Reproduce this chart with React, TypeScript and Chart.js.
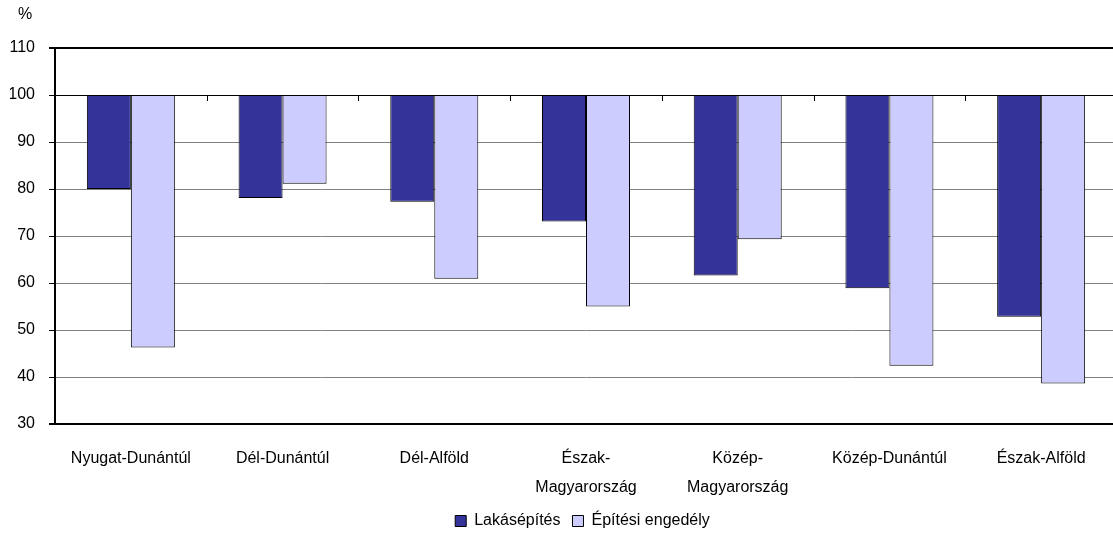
import React, { useEffect, useRef } from "react";
import { Chart, registerables } from "chart.js";

Chart.register(...registerables);

const categories: string[][] = [
  ["Nyugat-Dunántúl"],
  ["Dél-Dunántúl"],
  ["Dél-Alföld"],
  ["Észak-", "Magyarország"],
  ["Közép-", "Magyarország"],
  ["Közép-Dunántúl"],
  ["Észak-Alföld"],
];
const seriesNames = ["Lakásépítés", "Építési engedély"];
const lakasepites = [80.0, 78.1, 77.3, 73.1, 61.6, 58.9, 52.8];
const epitesiEngedely = [46.3, 81.1, 60.9, 55.0, 69.3, 42.4, 38.6];
const baseline = 100;
const yMin = 30;
const yMax = 110;
const yStep = 10;
const unitLabel = "%";

const FONT = "'Liberation Sans', Arial, sans-serif";
const LEGEND_SHIFT = 19;

const extrasPlugin = {
  id: "extras",
  afterLayout(chart: any) {
    const lg = chart.legend;
    if (lg && !lg.__shifted) {
      lg.left += LEGEND_SHIFT;
      lg.right += LEGEND_SHIFT;
      lg.__shifted = true;
    }
  },
  afterDatasetsDraw(chart: any) {
    const { ctx, scales } = chart;
    const x = scales.x;
    const y = scales.y;
    const yy = Math.round(y.getPixelForValue(baseline));
    const n = categories.length;
    ctx.save();
    ctx.strokeStyle = "#000";
    ctx.lineWidth = 1;
    for (let i = 1; i < n; i++) {
      const px = Math.round(x.left + (x.width * i) / n) + 0.5;
      ctx.beginPath();
      ctx.moveTo(px, yy);
      ctx.lineTo(px, yy + 6);
      ctx.stroke();
    }
    ctx.fillStyle = "#000";
    ctx.font = `16px ${FONT}`;
    ctx.textAlign = "center";
    ctx.textBaseline = "middle";
    ctx.fillText(unitLabel, y.left + 15, 15);
    ctx.restore();
  },
};

export default function App() {
  const ref = useRef<HTMLCanvasElement | null>(null);

  useEffect(() => {
    if (!ref.current) return;
    Chart.defaults.font.family = FONT;
    const chart = new Chart(ref.current, {
      type: "bar",
      data: {
        labels: categories as any,
        datasets: [
          {
            label: seriesNames[0],
            data: lakasepites.map((v) => [v, baseline]) as any,
            backgroundColor: "#333399",
            borderColor: "#000",
            borderWidth: 1,
            borderSkipped: false,
          },
          {
            label: seriesNames[1],
            data: epitesiEngedely.map((v) => [v, baseline]) as any,
            backgroundColor: "#CCCCFF",
            borderColor: "#000",
            borderWidth: 1,
            borderSkipped: false,
          },
        ],
      },
      options: {
        responsive: false,
        animation: false,
        devicePixelRatio: 1,
        layout: { padding: { top: 48, left: 10, right: 8, bottom: 21 } },
        datasets: {
          bar: { categoryPercentage: 0.58, barPercentage: 1 },
        },
        plugins: {
          legend: {
            position: "bottom",
            labels: {
              boxWidth: 11,
              boxHeight: 11,
              color: "#000",
              font: { size: 16, family: FONT },
              padding: 12,
            },
          },
          tooltip: { enabled: false },
          title: { display: false },
        },
        scales: {
          x: {
            grid: { display: false, drawTicks: false },
            border: { display: true, color: "#000", width: 2 },
            ticks: {
              color: "#000",
              font: { size: 16, family: FONT, lineHeight: 29 / 16 },
              padding: 20,
              maxRotation: 0,
              autoSkip: false,
            },
            afterFit: (s: any) => {
              s.height = s.height - 21;
            },
          },
          y: {
            min: yMin,
            max: yMax,
            afterFit: (s: any) => {
              s.width = 45;
            },
            ticks: {
              stepSize: yStep,
              color: "#000",
              font: { size: 16, family: FONT },
              padding: 14,
            },
            grid: {
              color: (c: any) =>
                c.tick && (c.tick.value === baseline || c.tick.value === yMax || c.tick.value === yMin)
                  ? "#000"
                  : "#808080",
              lineWidth: (c: any) =>
                c.tick && (c.tick.value === yMax || c.tick.value === yMin) ? 2 : 1,
              tickLength: 6,
              tickColor: "#000",
            },
            border: { display: true, color: "#000", width: 2 },
          },
        },
      },
      plugins: [extrasPlugin],
    });
    return () => chart.destroy();
  }, []);

  return (
    <div
      style={{
        position: "fixed",
        left: 0,
        top: 0,
        width: 1113,
        height: 560,
        overflow: "hidden",
        background: "#fff",
      }}
    >
      <canvas ref={ref} width={1125} height={560} style={{ display: "block" }} />
    </div>
  );
}
